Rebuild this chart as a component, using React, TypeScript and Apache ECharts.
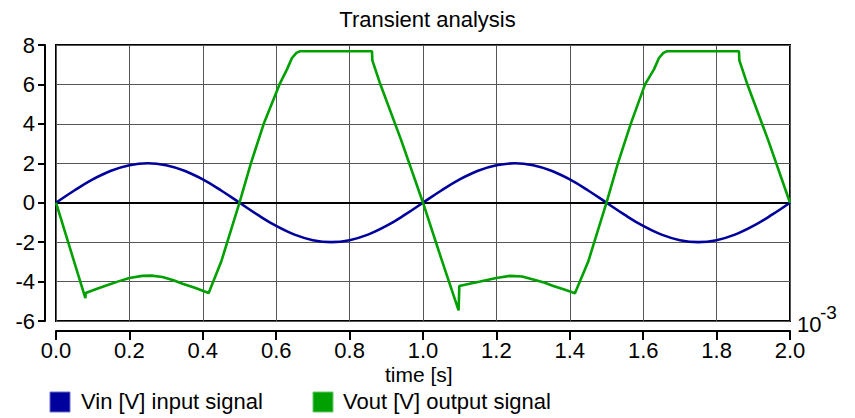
import React, { useEffect, useRef } from "react";
import * as echarts from "echarts";

const FONT = "'Liberation Sans', Arial, Helvetica, sans-serif";

const titleText = "Transient analysis";
const xAxisName = "time [s]";
const xTickLabels = ["0.0", "0.2", "0.4", "0.6", "0.8", "1.0", "1.2", "1.4", "1.6", "1.8", "2.0"];
const yTicks = [-6, -4, -2, 0, 2, 4, 6, 8];

const vinName = "Vin [V] input signal";
const voutName = "Vout [V] output signal";

// time in units of 10^-3 s
const vinTime = [
  0, 0.05, 0.1, 0.15, 0.2, 0.25, 0.3, 0.35, 0.4, 0.45, 0.5, 0.55, 0.6, 0.65, 0.7, 0.75, 0.8, 0.85, 0.9, 0.95,
  1.0, 1.05, 1.1, 1.15, 1.2, 1.25, 1.3, 1.35, 1.4, 1.45, 1.5, 1.55, 1.6, 1.65, 1.7, 1.75, 1.8, 1.85, 1.9, 1.95, 2.0,
];
const vinValues = [
  0, 0.62, 1.18, 1.62, 1.9, 2.0, 1.9, 1.62, 1.18, 0.62, 0, -0.62, -1.18, -1.62, -1.9, -2.0, -1.9, -1.62, -1.18, -0.62,
  0, 0.62, 1.18, 1.62, 1.9, 2.0, 1.9, 1.62, 1.18, 0.62, 0, -0.62, -1.18, -1.62, -1.9, -2.0, -1.9, -1.62, -1.18, -0.62, 0,
];

const voutTime = [
  0, 0.04, 0.08, 0.081, 0.11, 0.135, 0.17, 0.2, 0.235, 0.26, 0.29, 0.32, 0.345, 0.38, 0.416, 0.45, 0.5, 0.531, 0.566,
  0.609, 0.629, 0.643, 0.655, 0.664, 0.861, 0.862, 0.882, 0.94, 1.0,
  1.05, 1.097, 1.099, 1.13, 1.156, 1.2, 1.237, 1.27, 1.3, 1.33, 1.355, 1.385, 1.414, 1.45, 1.5, 1.531, 1.566,
  1.605, 1.629, 1.643, 1.655, 1.664, 1.861, 1.862, 1.882, 1.94, 2.0,
];
const voutValues = [
  0, -2.42, -4.84, -4.58, -4.38, -4.21, -3.99, -3.82, -3.71, -3.7, -3.77, -3.93, -4.11, -4.33, -4.58, -3.0, 0, 2.0, 4.0,
  6.0, 6.75, 7.34, 7.6, 7.68, 7.68, 7.22, 6.1, 3.2, 0,
  -2.85, -5.46, -4.22, -4.1, -4.0, -3.82, -3.71, -3.74, -3.89, -4.05, -4.22, -4.4, -4.59, -3.0, 0, 2.0, 4.0,
  6.0, 6.75, 7.34, 7.6, 7.68, 7.68, 7.22, 6.1, 3.2, 0,
];

const BLUE = "#00009c";
const GREEN = "#00a000";

export default function App() {
  const ref = useRef<HTMLDivElement>(null);
  useEffect(() => {
    if (!ref.current) return;
    const chart = echarts.init(ref.current, null, { renderer: "svg" });
    const vin = vinTime.map((t, i) => [t, vinValues[i]]);
    const vout = voutTime.map((t, i) => [t, voutValues[i]]);
    chart.setOption({
      animation: false,
      backgroundColor: "#fff",
      textStyle: { fontFamily: FONT },
      title: {
        text: titleText,
        left: "center",
        top: 3,
        textStyle: { fontFamily: FONT, fontSize: 22, fontWeight: "normal", color: "#000" },
      },
      grid: {
        left: 56,
        right: 65,
        top: 45,
        bottom: 97,
        show: true,
        borderColor: "#000",
        borderWidth: 2,
        backgroundColor: "transparent",
      },
      xAxis: {
        type: "value",
        min: 0,
        max: 2,
        interval: 0.2,
        offset: 10,
        axisLine: { show: true, onZero: false, lineStyle: { color: "#000", width: 2 } },
        axisTick: { show: true, length: 9, lineStyle: { color: "#000", width: 2 } },
        axisLabel: {
          color: "#000",
          fontSize: 22,
          lineHeight: 17,
          fontFamily: FONT,
          margin: 11,
          formatter: (v: number) => xTickLabels[Math.round(v / 0.2)] ?? "",
        },
        splitLine: { show: true, lineStyle: { color: "#555", width: 1 } },
      },
      yAxis: {
        type: "value",
        min: yTicks[0],
        max: yTicks[yTicks.length - 1],
        interval: 2,
        offset: 11,
        axisLine: { show: true, onZero: false, lineStyle: { color: "#000", width: 2 } },
        axisTick: { show: true, length: 7, lineStyle: { color: "#000", width: 2 } },
        axisLabel: { color: "#000", fontSize: 22, fontFamily: FONT, margin: 10 },
        splitLine: { show: true, lineStyle: { color: "#555", width: 1 } },
      },
      graphic: [
        { type: "text", left: 385, top: 364, style: { text: xAxisName, font: `21px ${FONT}`, lineHeight: 17, fill: "#000" } },
        { type: "text", left: 797, top: 313, style: { text: "10", font: `22px ${FONT}`, fill: "#000" } },
        { type: "text", left: 820, top: 303, style: { text: "-3", font: `19px ${FONT}`, fill: "#000" } },
        { type: "rect", shape: { x: 50, y: 392, width: 20, height: 20 }, style: { fill: BLUE, stroke: "#6a6acc", lineWidth: 1 } },
        { type: "text", left: 81, top: 390, style: { text: vinName, font: `22px ${FONT}`, fill: "#000" } },
        { type: "rect", shape: { x: 313, y: 392, width: 20, height: 20 }, style: { fill: GREEN, stroke: "#66cc66", lineWidth: 1 } },
        { type: "text", left: 343, top: 390, style: { text: voutName, font: `22px ${FONT}`, fill: "#000" } },
      ],
      series: [
        {
          name: vinName,
          type: "line",
          data: vin,
          showSymbol: false,
          smooth: 0.4,
          lineStyle: { color: BLUE, width: 2.6 },
          itemStyle: { color: BLUE },
          z: 3,
          markLine: {
            silent: true,
            symbol: "none",
            label: { show: false },
            lineStyle: { color: "#000", width: 2, type: "solid" },
            data: [{ yAxis: 0 }],
            z: 1,
          },
        },
        {
          name: voutName,
          type: "line",
          data: vout,
          showSymbol: false,
          smooth: false,
          lineStyle: { color: GREEN, width: 2.6 },
          itemStyle: { color: GREEN },
          z: 4,
        },
      ],
    });
    return () => chart.dispose();
  }, []);
  return <div ref={ref} style={{ position: "fixed", left: 0, top: 0, width: 855, height: 418 }} />;
}
